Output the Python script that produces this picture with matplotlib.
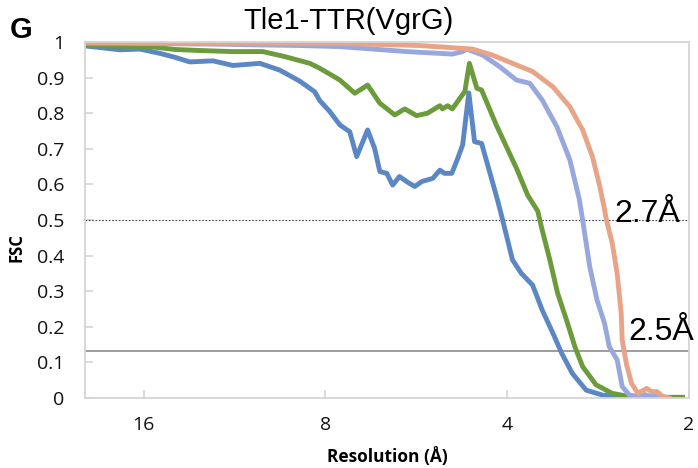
import numpy as np
import matplotlib
matplotlib.use("Agg")
import matplotlib.pyplot as plt

# FSC curves (resolution in A, FSC value)
blue_res = [20.0, 17.50, 16.22, 15.03, 14.20, 13.41, 12.28, 11.38, 10.27, 9.52, 8.82, 8.33,
            8.17, 7.87, 7.57, 7.29, 7.10, 6.81, 6.63, 6.50, 6.33, 6.19, 6.03, 5.87, 5.69, 5.54,
            5.31, 5.17, 5.08, 4.94, 4.83, 4.74, 4.63, 4.53, 4.41, 4.28, 4.15, 4.07, 3.92, 3.79,
            3.63, 3.50, 3.36, 3.25, 3.12, 2.96, 2.78, 2.51, 2.33, 2.16, 2.05]
blue_fsc = [0.989, 0.978, 0.98, 0.968, 0.957, 0.944, 0.947, 0.934, 0.94, 0.921, 0.89, 0.86,
            0.835, 0.805, 0.767, 0.748, 0.678, 0.753, 0.701, 0.636, 0.631, 0.598, 0.622, 0.608,
            0.594, 0.608, 0.617, 0.640, 0.631, 0.631, 0.673, 0.711, 0.857, 0.720, 0.715, 0.637,
            0.556, 0.50, 0.388, 0.350, 0.317, 0.247, 0.182, 0.126, 0.069, 0.022, 0.008, 0.002,
            0.001, 0.0, 0.0]

green_res = [20.0, 15.61, 14.20, 12.91, 11.38, 10.15, 9.34, 8.49, 8.17, 7.78, 7.57, 7.15,
             6.81, 6.50, 6.14, 5.91, 5.65, 5.42, 5.17, 5.12, 5.02, 4.93, 4.79, 4.70, 4.62,
             4.49, 4.41, 4.17, 3.86, 3.70, 3.56, 3.51, 3.40, 3.30, 3.19, 3.09, 3.00, 2.85,
             2.68, 2.51, 2.21, 2.05]
green_fsc = [0.99, 0.987, 0.979, 0.976, 0.973, 0.973, 0.959, 0.94, 0.926, 0.905, 0.893, 0.856,
             0.879, 0.828, 0.795, 0.812, 0.793, 0.80, 0.821, 0.812, 0.821, 0.812, 0.842, 0.861,
             0.94, 0.87, 0.865, 0.767, 0.645, 0.570, 0.525, 0.48, 0.388, 0.294, 0.219, 0.144,
             0.088, 0.037, 0.013, 0.004, 0.002, 0.002]

lav_res = [20.0, 12.28, 8.82, 7.57, 5.87, 4.93, 4.74, 4.67, 4.39, 4.12, 3.86, 3.67, 3.50,
           3.31, 3.15, 3.04, 3.00, 2.92, 2.84, 2.76, 2.71, 2.63, 2.58, 2.51, 2.43, 2.37, 2.31,
           2.24, 2.16]
lav_fsc = [0.997, 0.994, 0.99, 0.987, 0.973, 0.966, 0.973, 0.98, 0.963, 0.931, 0.893, 0.884,
           0.837, 0.762, 0.669, 0.56, 0.50, 0.369, 0.275, 0.21, 0.144, 0.107, 0.032, 0.008,
           0.005, 0.01, 0.004, 0.006, 0.0]

orange_res = [20.0, 7.57, 5.58, 4.74, 4.56, 4.23, 3.92, 3.63, 3.36, 3.15, 3.00, 2.89, 2.81,
              2.76, 2.74, 2.68, 2.63, 2.59, 2.58, 2.54, 2.49, 2.43, 2.35, 2.31, 2.26, 2.21, 2.16]
orange_fsc = [0.998, 0.996, 0.99, 0.982, 0.98, 0.963, 0.94, 0.917, 0.874, 0.818, 0.753, 0.678,
              0.594, 0.53, 0.50, 0.435, 0.35, 0.238, 0.163, 0.097, 0.041, 0.013, 0.027, 0.018,
              0.018, 0.004, 0.0]

x_ticks = [16, 8, 4, 2]
y_ticks = [0, 0.1, 0.2, 0.3, 0.4, 0.5, 0.6, 0.7, 0.8, 0.9, 1]
y_tick_labels = ["0", "0.1", "0.2", "0.3", "0.4", "0.5", "0.6", "0.7", "0.8", "0.9", "1"]
fsc_half = 0.5
fsc_gold = 0.133

fig = plt.figure(figsize=(6.98, 4.68), dpi=100)
ax = fig.add_axes([0.1218, 0.1496, 0.8653, 0.7607])

ax.axhline(fsc_half, color="#444444", lw=0.8, ls=(0, (1.5, 1.5)))
ax.axhline(fsc_gold, color="#8c8c8c", lw=1.2)

lw = 3.5
ax.plot(blue_res, blue_fsc, color="#5b87c4", lw=lw, solid_joinstyle="round")
ax.plot(green_res, green_fsc, color="#6b9b3b", lw=lw, solid_joinstyle="round")
ax.plot(lav_res, lav_fsc, color="#98a8de", lw=lw, solid_joinstyle="round")
ax.plot(orange_res, orange_fsc, color="#e9a487", lw=lw, solid_joinstyle="round")

ax.set_xscale("log", base=2)
ax.set_xlim(20, 2)
ax.set_ylim(0, 1)
ax.set_xticks(x_ticks)
ax.set_xticklabels([str(v) for v in x_ticks])
ax.minorticks_off()
ax.set_yticks(y_ticks)
ax.set_yticklabels(y_tick_labels)

for s in ax.spines.values():
    s.set_color("#d4d4d4")
    s.set_linewidth(1.3)
ax.tick_params(axis="both", direction="in", length=6, width=1.2, color="#d4d4d4",
               labelsize=14, labelcolor="#111111")
ax.tick_params(axis="x", pad=13)
ax.tick_params(axis="y", pad=15)
for lab in ax.get_xticklabels() + ax.get_yticklabels():
    lab.set_family("Open Sans")

ax.set_xlabel("Resolution (Å)", family="Open Sans", fontweight="bold", fontsize=12.5,
              labelpad=9)
fig.text(0.024, 0.47, "FSC", family="Open Sans", fontweight="bold", fontsize=12,
         rotation=90, ha="center", va="center")

fig.text(0.5, 0.955, "Tle1-TTR(VgrG)", family="Liberation Sans", fontsize=21,
         ha="center", va="center")
fig.text(0.014, 0.935, "G", family="Liberation Sans", fontweight="bold", fontsize=21,
         ha="left", va="center")

ax.text(0.877, 0.494, "2.7Å", transform=ax.transAxes, family="Liberation Sans",
        fontsize=23, ha="left", va="baseline")
ax.text(0.899, 0.163, "2.5Å", transform=ax.transAxes, family="Liberation Sans",
        fontsize=23, ha="left", va="baseline")

fig.savefig("out.png", dpi=100)
